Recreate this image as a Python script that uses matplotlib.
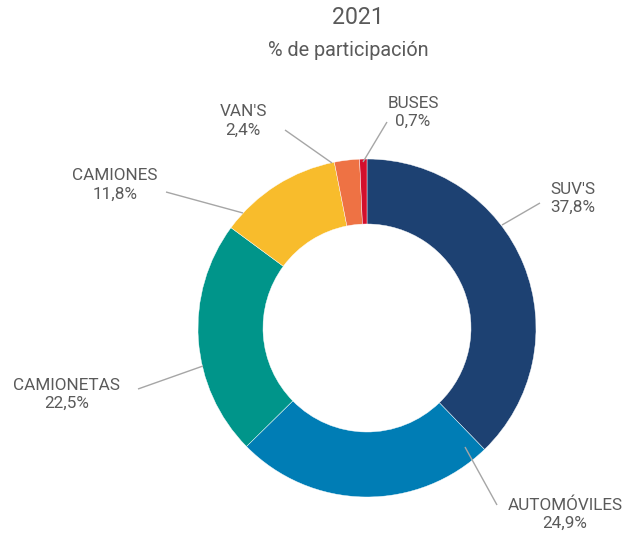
import matplotlib
matplotlib.use("Agg")
import matplotlib.pyplot as plt

plt.rcParams['font.family'] = ['Roboto', 'DejaVu Sans']

segments = ["SUV'S", "AUTOMÓVILES", "CAMIONETAS", "CAMIONES", "VAN'S", "BUSES"]
shares = [37.8, 24.9, 22.5, 11.8, 2.4, 0.7]
colors = ["#1d4172", "#007db5", "#00958a", "#f8bc2c", "#ee7244", "#d30f2c"]
year = "2021"
subtitle = "% de participación"
title = "Participación por segmento"

# label centres and leader line ends, in pixels from the top-left corner
label_xy = [(573, 198), (565, 514), (67, 394), (115, 185), (243, 121), (413, 112)]
leader_from = [(540, 203), (497, 505), (138, 389), (166, 192), (285, 130), (387, 122)]
leader_to = [(502, 225), (465, 447), (203, 366), (243, 213), (332, 163), (363, 162)]

W, H = 624, 538
fig = plt.figure(figsize=(W / 100, H / 100), dpi=100)
ax = fig.add_axes([0, 0, 1, 1])

cx, cy, R = 367, H - 328, 169
wedges, _ = ax.pie(shares, colors=colors, startangle=90, counterclock=False,
                   radius=R, center=(cx, cy), frame=True,
                   wedgeprops=dict(width=65, edgecolor='white', linewidth=0.3))
ax.set_xlim(0, W)
ax.set_ylim(0, H)
ax.set_aspect('equal')
ax.axis('off')

txt = "#5a5a5a"
for name, val, (lx, ly), (sx, sy), (ex, ey) in zip(segments, shares, label_xy,
                                                   leader_from, leader_to):
    ax.plot([sx, ex], [H - sy, H - ey], color="#a6a6a6", lw=1.0, solid_capstyle='butt')
    ax.text(lx, H - ly, f"{name}\n{val:.1f}%".replace('.', ','), ha='center', va='center',
            fontsize=12.3, color=txt, linespacing=1.25)

fig.text(358 / W, 1 - 18 / H, year, ha='center', va='center', fontsize=16.7, color=txt)
fig.text(348 / W, 1 - 51 / H, subtitle, ha='center', va='center', fontsize=14.3, color=txt)
fig.text(390 / W, 1 + 12 / H, title, ha='center', va='center', fontsize=16.7, color=txt)

fig.savefig("out.png", dpi=100)
